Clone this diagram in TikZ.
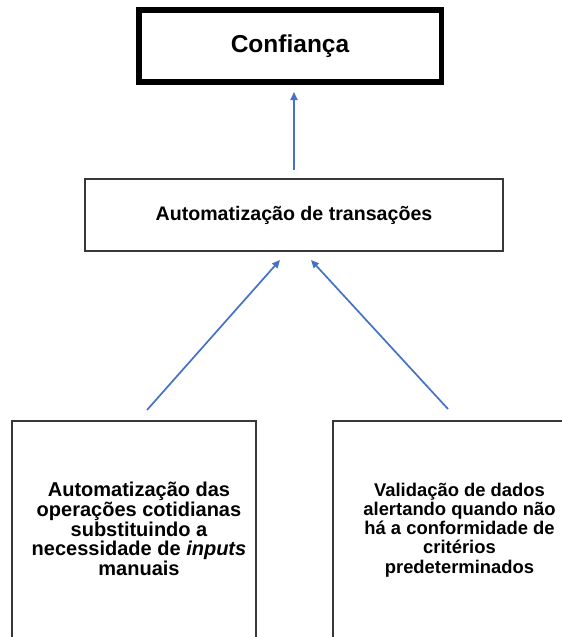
\documentclass[tikz,border=0pt]{standalone}
\usepackage{fontspec}
\setmainfont{Liberation Sans}
\usetikzlibrary{arrows.meta}
\definecolor{arrowblue}{HTML}{4472C4}
\definecolor{boxgray}{HTML}{383838}
\begin{document}
\begin{tikzpicture}[x=1pt,y=-1pt,
  topbox/.style={draw=black, line width=5.5pt, minimum width=302.5pt, minimum height=72pt, inner sep=0pt,
    font=\fontsize{24.5}{28}\selectfont\bfseries},
  midbox/.style={draw=boxgray, line width=1.4pt, minimum width=418pt, minimum height=72pt, inner sep=0pt,
    font=\fontsize{19.6}{23}\selectfont\bfseries},
  lowbox/.style={draw=boxgray, line width=1.4pt, minimum height=279pt, inner sep=0pt},
  lowtext/.style={align=center, inner sep=0pt},
  conn/.style={draw=arrowblue, line width=1.7pt, -{Triangle[length=8pt,width=7pt]}}]
\clip (0,0) rectangle (562,637);
\fill[white] (0,0) rectangle (562,637);

\node[topbox] (top) at (290,46) {Confiança};
\node[midbox] (mid) at (294,215) {Automatização de transações};
\node[lowbox, minimum width=244pt] (lbox) at (134,560.5) {};
\node[lowbox, minimum width=253pt] (rbox) at (459.5,560.5) {};
\node[lowtext, font=\fontsize{20}{19.8}\selectfont\bfseries] (ltext) at (139,529) {Automatização das\\operações cotidianas\\substituindo a\\necessidade de \textit{inputs}\\manuais};
\node[lowtext, font=\fontsize{18.4}{19.2}\selectfont\bfseries] (rtext) at (459.5,530) {Validação de dados\\alertando quando não\\há a conformidade de\\critérios\\predeterminados};

\coordinate (a1s) at (294,170);
\coordinate (a1e) at (294,92);
\coordinate (a2s) at (147,410);
\coordinate (a2e) at (280,260);
\coordinate (a3s) at (448,409);
\coordinate (a3e) at (311,260);
\draw[conn] (a1s) -- (a1e);
\draw[conn] (a2s) -- (a2e);
\draw[conn] (a3s) -- (a3e);
\end{tikzpicture}
\end{document}
